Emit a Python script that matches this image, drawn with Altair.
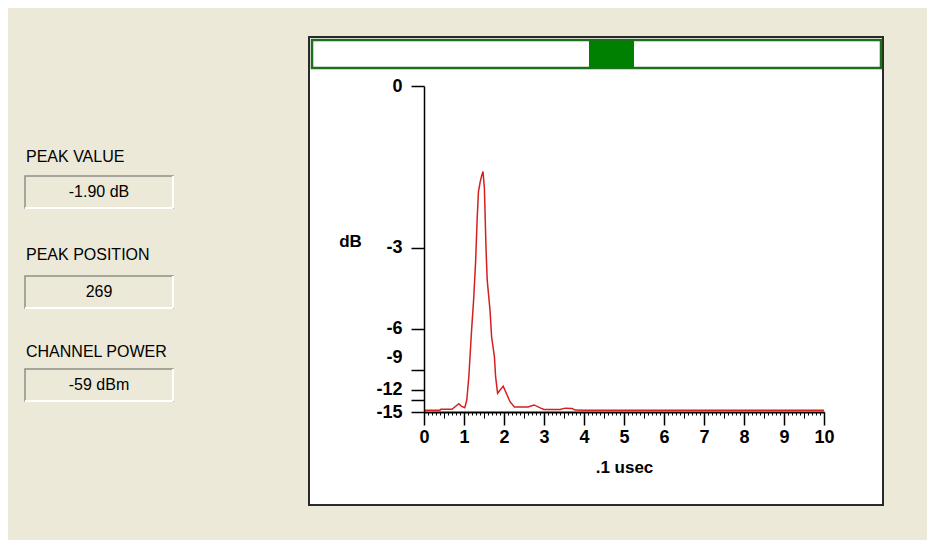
import altair as alt
import pandas as pd

# ---- data ----
time_x = [0.0, 0.40, 0.42, 0.70, 0.87, 0.93, 1.02, 1.07, 1.12, 1.19, 1.24, 1.29,
          1.33, 1.36, 1.40, 1.44, 1.475, 1.51, 1.55, 1.58, 1.65, 1.69, 1.76, 1.79,
          1.84, 1.98, 2.15, 2.26, 2.60, 2.75, 2.92, 3.00, 3.40, 3.53, 3.70, 3.78,
          4.00, 10.0]
level_db = [-33.0, -33.0, -24.7, -24.7, -16.8, -18.7, -20.7, -14.9, -9.9, -6.06,
            -4.69, -3.40, -2.27, -1.72, -1.54, -1.41, -1.33, -1.64, -3.00, -3.96,
            -5.09, -6.44, -7.80, -9.83, -12.76, -11.25, -15.69, -19.6, -19.6, -17.7,
            -21.5, -25.2, -25.2, -21.5, -22.2, -30.0, -35.0, -35.0]

y_tick_db = [0, -3, -6, -9, -12, -15]
y_tick_labels = ["0", "-3", "-6", "-9", "-12", "-15"]
x_tick_values = [0, 1, 2, 3, 4, 5, 6, 7, 8, 9, 10]

panel_labels = ["PEAK VALUE", "PEAK POSITION", "CHANNEL POWER"]
panel_values = ["-1.90 dB", "269", "-59 dBm"]

# ---- layout constants ----
Y_MIN = -0.0048
W, H = 400, 326
BG = "#ECE9D8"
FONT = "Liberation Sans"

df = pd.DataFrame({"t": time_x, "db": level_db})
dummy = pd.DataFrame({"a": [0]})

# y ticks: linear in power, labelled in dB; the "-15" label sits at the baseline
y_vals = [10 ** (d / 10) for d in y_tick_db] + [Y_MIN]
parts = []
for v, lab in zip(y_vals[:-1], y_tick_labels[:-1]):
    parts.append(f"abs(datum.value - {v:.6f}) < 0.0005 ? '{lab}'")
label_expr = " : ".join(parts) + f" : abs(datum.value - ({Y_MIN})) < 0.0005 ? '{y_tick_labels[-1]}' : ''"
nine = 10 ** (-0.9)

x_scale = alt.Scale(domain=[0, 10], nice=False, zero=False)
y_scale = alt.Scale(domain=[Y_MIN, 1], nice=False, zero=False)

y_axis = alt.Axis(
    values=y_vals, labelExpr=label_expr, tickSize=13, tickWidth=1.5, tickColor="black",
    domainColor="black", domainWidth=1.5, labelFont=FONT, labelFontSize=18,
    labelFontWeight="bold", labelColor="black", labelPadding=9, labelOverlap=False,
    labelBound=False, labelFlush=False, grid=False, zindex=1,
    labelOffset={"condition": {"test": f"abs(datum.value - {nine:.6f}) < 0.0005", "value": -12}, "value": 0},
    title="dB", titleAngle=0, titleX=-74, titleY=155, titleAlign="center",
    titleBaseline="middle", titleFont=FONT, titleFontSize=17, titleFontWeight="bold",
    titleColor="black",
)

x_axis = alt.Axis(
    values=x_tick_values, format="d", tickSize=13, tickWidth=1.5, tickColor="black",
    domainColor="black", domainWidth=2, labelFont=FONT, labelFontSize=18,
    labelFontWeight="bold", labelColor="black", labelPadding=3, labelOverlap=False,
    labelFlush=False, grid=False, zindex=1, orient="bottom",
    title=".1 usec", titleFont=FONT, titleFontSize=17, titleFontWeight="bold",
    titleColor="black", titlePadding=13,
)

minor_vals = [round(i * 0.1, 1) for i in range(101)]
half_vals = [round(i * 0.5, 1) for i in range(21)]


def ghost_axis(vals, size):
    return alt.Chart(df).mark_point(opacity=0).encode(
        x=alt.X("t:Q", scale=x_scale, axis=alt.Axis(
            values=vals, tickSize=size, tickWidth=1, tickColor="black", labels=False,
            domain=False, title=None, grid=False, orient="bottom", zindex=1))
    )


# ---- decorations ----
panel = alt.Chart(dummy).mark_rect(fill="white", stroke="#2a2a2a", strokeWidth=2).encode(
    x=alt.value(-115), x2=alt.value(459), y=alt.value(-49), y2=alt.value(419))
topbar = alt.Chart(dummy).mark_rect(fill="white", stroke="#1E6E1E", strokeWidth=2.5).encode(
    x=alt.value(-112), x2=alt.value(457), y=alt.value(-46), y2=alt.value(-18))
block = alt.Chart(dummy).mark_rect(fill="#008000").encode(
    x=alt.value(165), x2=alt.value(210), y=alt.value(-45), y2=alt.value(-19))

layers = [panel, topbar, block]

label_y = [71, 169, 266]
box_top = [90, 190, 283]
for lab, val, ly, bt in zip(panel_labels, panel_values, label_y, box_top):
    bb = bt + 32
    layers.append(alt.Chart(dummy).mark_text(
        text=lab, font=FONT, fontSize=16, color="black", align="left", baseline="middle"
    ).encode(x=alt.value(-398), y=alt.value(ly)))
    layers.append(alt.Chart(dummy).mark_rect(fill=BG, stroke="#8f8f86", strokeWidth=1.5).encode(
        x=alt.value(-399), x2=alt.value(-251), y=alt.value(bt), y2=alt.value(bb)))
    layers.append(alt.Chart(dummy).mark_rule(color="white", strokeWidth=2).encode(
        x=alt.value(-399), x2=alt.value(-251), y=alt.value(bb)))
    layers.append(alt.Chart(dummy).mark_rule(color="white", strokeWidth=2).encode(
        x=alt.value(-251), y=alt.value(bt), y2=alt.value(bb)))
    layers.append(alt.Chart(dummy).mark_text(
        text=val, font=FONT, fontSize=16, color="black", align="center", baseline="middle"
    ).encode(x=alt.value(-325), y=alt.value(bt + 16)))

# ---- data ----
curve = alt.Chart(df).transform_calculate(p="pow(10, datum.db / 10)").mark_line(
    color="#D42020", strokeWidth=1.5, interpolate="linear"
).encode(
    x=alt.X("t:Q", scale=x_scale, axis=x_axis),
    y=alt.Y("p:Q", scale=y_scale, axis=y_axis),
)

layers += [curve, ghost_axis(minor_vals, 3), ghost_axis(half_vals, 6)]

chart = alt.layer(*layers).resolve_axis(x="independent").properties(
    width=W, height=H,
    autosize=alt.AutoSizeParams(type="none"),
    padding={"left": 416, "top": 78, "right": 103, "bottom": 128},
    background=BG,
).configure_view(stroke=None)

chart.save("out.html", embed_options={"renderer": "svg", "actions": False})
